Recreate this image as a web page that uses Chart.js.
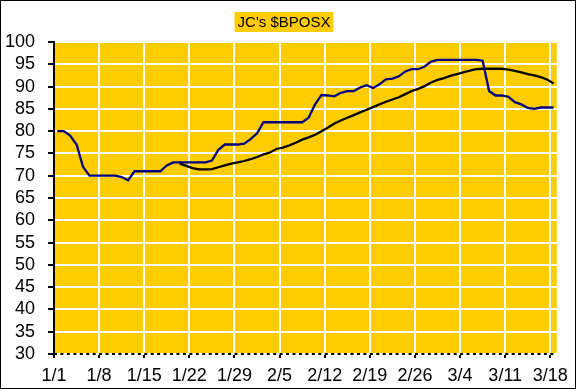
<!DOCTYPE html>
<html>
<head>
<meta charset="utf-8">
<script src="https://cdn.jsdelivr.net/npm/chart.js@4"></script>
<style>
  body { margin: 0; background: #fff; }
  #wrap { width: 576px; height: 389px; box-sizing: border-box; border: 1px solid #000; position: relative; }
  canvas { display: block; }
</style>
</head>
<body>
<div id="wrap"><canvas id="fundChart" width="574" height="387"></canvas></div>
<script>
// daily closes from 1/1 to 3/19, one value per calendar day
var weekLabels = ['1/1', '1/8', '1/15', '1/22', '1/29', '2/5', '2/12', '2/19', '2/26', '3/4', '3/11', '3/18'];
var price = [
  80, 80, 79, 77, 72, 70, 70, 70, 70, 70,
  69.7, 69, 71, 71, 71, 71, 71, 72.3, 73, 73,
  73, 73, 73, 73, 73.4, 75.8, 77, 77, 77, 77.2,
  78.2, 79.5, 82, 82, 82, 82, 82, 82, 82, 83,
  86, 88.1, 88, 87.8, 88.6, 89, 89, 89.8, 90.3, 89.7,
  90.5, 91.6, 91.8, 92.3, 93.4, 93.9, 93.9, 94.5, 95.6, 96,
  96, 96, 96, 96, 96, 96, 95.8, 89, 88, 88,
  87.7, 86.5, 86, 85.2, 85, 85.3, 85.3, 85.3
];
// moving average, starts on day 19
var avgStart = 19;
var average = [
  72.7, 72.2, 71.7, 71.4, 71.4, 71.5, 71.9, 72.3, 72.7, 73.0,
  73.3, 73.7, 74.2, 74.8, 75.2, 76, 76.3, 76.8, 77.4, 78.1,
  78.6, 79.2, 80, 80.8, 81.7, 82.4, 83, 83.6, 84.2, 84.8,
  85.4, 86, 86.6, 87.1, 87.6, 88.3, 89, 89.5, 90.1, 90.9,
  91.5, 91.9, 92.4, 92.8, 93.2, 93.6, 93.9, 94, 94, 94,
  94, 93.8, 93.5, 93.2, 92.8, 92.5, 92.1, 91.6, 90.7
];

var fontFam = "'Liberation Sans', Arial, sans-serif";

var pricePts = price.map(function (v, i) { return { x: i, y: v }; });
var avgPts = average.map(function (v, i) { return { x: i + avgStart, y: v }; });

var plotBg = {
  id: 'plotBg',
  beforeDraw: function (chart) {
    var a = chart.chartArea, ctx = chart.ctx;
    ctx.save();
    ctx.fillStyle = '#FFCC00';
    ctx.fillRect(a.left, a.top, a.right - a.left, a.bottom - a.top);
    ctx.restore();
  },
  // dotted x axis, one dash per day
  afterDraw: function (chart) {
    var a = chart.chartArea, ctx = chart.ctx, xs = chart.scales.x;
    var dayPx = xs.getPixelForValue(1) - xs.getPixelForValue(0);
    ctx.save();
    ctx.strokeStyle = '#000';
    ctx.lineWidth = 2;
    ctx.setLineDash([3, dayPx - 3]);
    ctx.beginPath();
    ctx.moveTo(a.left, a.bottom);
    ctx.lineTo(a.right, a.bottom);
    ctx.stroke();
    ctx.restore();
  }
};

var boxTitle = {
  id: 'boxTitle',
  afterDraw: function (chart) {
    var ctx = chart.ctx;
    var text = "JC's $BPOSX";
    ctx.save();
    ctx.font = '15px ' + fontFam;
    var w = ctx.measureText(text).width;
    var cx = chart.width / 2 - 4;
    ctx.fillStyle = '#FFCC00';
    ctx.fillRect(cx - w / 2 - 3, 11, w + 6, 20);
    ctx.fillStyle = '#000';
    ctx.textAlign = 'center';
    ctx.textBaseline = 'middle';
    ctx.fillText(text, cx, 21.5);
    ctx.restore();
  }
};

var canvasElement = document.getElementById('fundChart');
var config = {
  type: 'line',
  data: {
    datasets: [{
      label: 'Price',
      data: pricePts,
      borderColor: '#000080',
      borderWidth: 2.3,
      pointRadius: 0,
      tension: 0
    }, {
      label: 'Average',
      data: avgPts,
      borderColor: '#000000',
      borderWidth: 2.3,
      pointRadius: 0,
      tension: 0
    }]
  },
  options: {
    responsive: false,
    animation: false,
    layout: { padding: { top: 41, right: 11, left: 0, bottom: 0 } },
    plugins: {
      legend: { display: false },
      tooltip: { enabled: false },
      title: { display: false }
    },
    scales: {
      x: {
        type: 'linear',
        min: -0.5,
        max: price.length - 0.5,
        afterFit: function (scale) { scale.height = 34; },
        afterBuildTicks: function (scale) {
          scale.ticks = weekLabels.map(function (l, i) { return { value: i * 7 - 0.5 }; });
        },
        ticks: {
          autoSkip: false,
          maxRotation: 0,
          padding: 7,
          color: '#000',
          font: { family: fontFam, size: 18 },
          callback: function (v, i) { return weekLabels[i]; }
        },
        grid: { color: '#fff', lineWidth: 2, tickColor: '#000', tickLength: 4, tickWidth: 2 },
        border: { display: false }
      },
      y: {
        min: 30,
        max: 100,
        afterFit: function (scale) { scale.width = 53; },
        ticks: {
          stepSize: 5,
          autoSkip: false,
          padding: 13,
          color: '#000',
          font: { family: fontFam, size: 18 }
        },
        grid: { color: '#fff', lineWidth: 2, tickColor: '#000', tickLength: 6, tickWidth: 2 },
        border: { display: true, color: '#000', width: 2 }
      }
    }
  },
  plugins: [plotBg, boxTitle]
};

var fundChart = new Chart(canvasElement, config);
</script>
</body>
</html>
